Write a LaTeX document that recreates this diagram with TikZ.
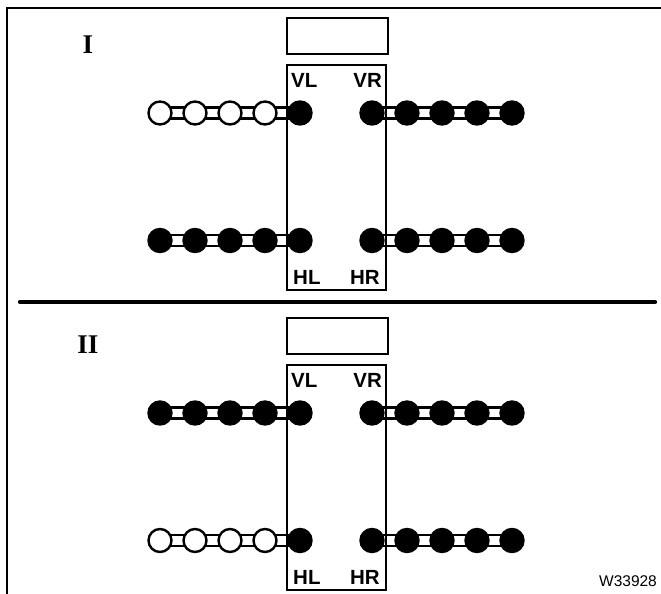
\documentclass[tikz,border=0pt]{standalone}
\usepackage{fontspec}
\setmainfont{Liberation Sans}
\newfontfamily\romfont{Liberation Serif}
\usetikzlibrary{backgrounds}
\begin{document}
\begin{tikzpicture}[x=1pt,y=-1pt,
  wheel/.style={circle,draw=black,line width=2.4pt,inner sep=0pt,minimum size=23pt},
  wheelon/.style={wheel,fill=black},
  wheeloff/.style={wheel,fill=white},
  bar/.style={draw=black,line width=2.4pt,double=white,double distance=8.5pt},
  boxline/.style={draw=black,line width=2pt},
  lab/.style={font=\fontsize{20.5}{20.5}\selectfont\bfseries,inner sep=0pt},
  sect/.style={font=\romfont\fontsize{27}{27}\selectfont\bfseries,inner sep=0pt},
]
\useasboundingbox (0,0) rectangle (661,594);
% frame
\draw[line width=2.8pt] (7,594) -- (7,8) -- (661,8);
\draw[line width=4.2pt,line cap=round] (20,302) -- (655,302);
% section labels
\node[sect] (secI) at (88,45) {I};
\node[sect] (secII) at (88,345) {II};
\node[inner sep=0pt,font=\fontsize{15.5}{15.5}\selectfont] (code) at (628,581) {W33928};
% wheels
\foreach \row/\y/\nopen in {a/113/4, b/240.5/0, c/413/0, d/540.5/4} {
  \foreach \i/\x in {1/160,2/195,3/230,4/265,5/300} {
    \ifnum\i>\nopen \def\st{wheelon}\else\def\st{wheeloff}\fi
    \node[\st] (\row L\i) at (\x,\y) {};
  }
  \foreach \i/\x in {1/372,2/407,3/442,4/477,5/512} {
    \node[wheelon] (\row R\i) at (\x,\y) {};
  }
}
\begin{scope}[on background layer]
  \foreach \row in {a,b,c,d} {
    \foreach \i/\j in {1/2,2/3,3/4,4/5} {
      \draw[bar] (\row L\i.center) -- (\row L\j.center);
      \draw[bar] (\row R\i.center) -- (\row R\j.center);
    }
  }
  \foreach \dy in {0,300} {
    \draw[boxline] (287,18+\dy) rectangle (388,54+\dy);
    \draw[boxline] (287,65+\dy) rectangle (385.5,290+\dy);
  }
\end{scope}
% corner labels
\node[lab,anchor=west] (vl1) at (291,80) {VL};
\node[lab,anchor=east] (vr1) at (382,80) {VR};
\node[lab,anchor=west] (hl1) at (293,277) {HL};
\node[lab,anchor=east] (hr1) at (380,277) {HR};
\node[lab,anchor=west] (vl2) at (291,380) {VL};
\node[lab,anchor=east] (vr2) at (382,380) {VR};
\node[lab,anchor=west] (hl2) at (293,577) {HL};
\node[lab,anchor=east] (hr2) at (380,577) {HR};
\end{tikzpicture}
\end{document}
